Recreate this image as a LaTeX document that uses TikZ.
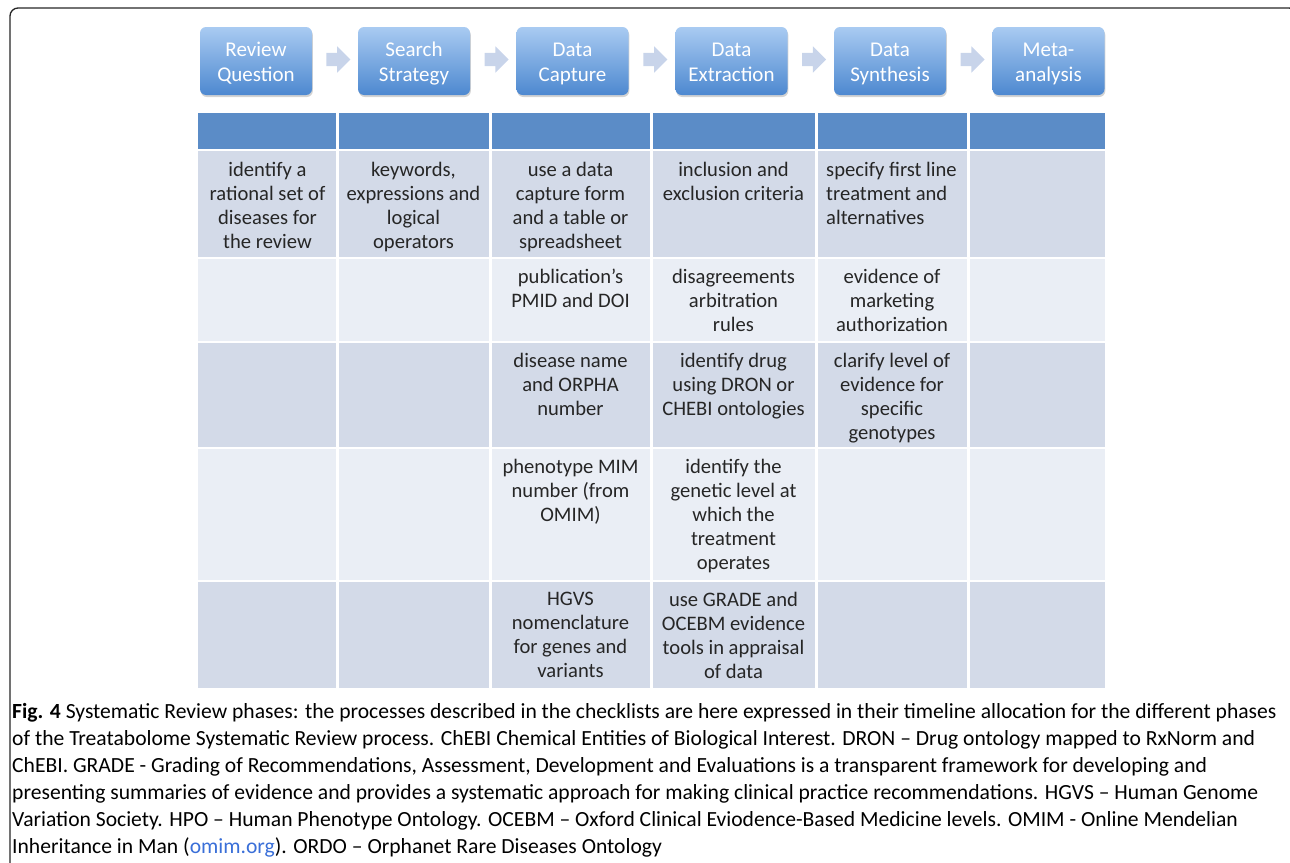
\documentclass[tikz,border=0pt]{standalone}
\usepackage{fontspec}
\setmainfont{Carlito}
\usetikzlibrary{shapes.arrows,shadows,calc}
\definecolor{hdr}{HTML}{5B8CC7}
\definecolor{bandA}{HTML}{D3DAE8}
\definecolor{bandB}{HTML}{EAEEF5}
\definecolor{txtc}{HTML}{262626}
\definecolor{boxtop}{HTML}{A9CBF2}
\definecolor{boxbot}{HTML}{4D88D0}
\definecolor{arrc}{HTML}{C8D4EA}
\definecolor{linkc}{HTML}{3A6FD8}
\tikzset{
  phase/.style={draw=none, rounded corners=6pt, minimum width=112pt, minimum height=68pt,
    top color=boxtop, bottom color=boxbot, text=white, align=center, inner sep=0pt,
    font=\fontsize{21}{25}\selectfont,
    drop shadow={opacity=0.35, shadow xshift=0.8pt, shadow yshift=-2pt}},
  blockarrow/.style={single arrow, fill=arrc, draw=none, inner xsep=0pt, inner ysep=6.5pt,
    minimum height=24pt, single arrow head extend=6.5pt, single arrow head indent=0pt},
  celltxt/.style={anchor=north, align=center, inner sep=0pt, text=txtc,
    font=\fontsize{20.6}{24}\selectfont},
  celltxtl/.style={celltxt, anchor=north west, align=left},
  captxt/.style={anchor=base west, inner sep=0pt, text=black,
    font=\fontsize{21.6}{27}\selectfont},
  sep/.style={white, line width=3pt},
  rowsep/.style={white, line width=2.2pt}
}
\newcommand{\phaselbl}[2]{\raisebox{0pt}[\dimexpr\height+6pt\relax]{\begin{tabular}{@{}c@{}}#1\\[0pt]#2\end{tabular}}}
\begin{document}
\begin{tikzpicture}[x=1pt,y=-1pt]
\useasboundingbox (0,0) rectangle (1290,862);
\clip (0,0) rectangle (1290,862);
% outer frame
\draw[line width=1.3pt, black!85, rounded corners=8pt] (10,880) -- (10,8) -- (1297,8) -- (1297,880);

% phase boxes
\node[phase] (p1) at (256,61) {\phaselbl{Review}{Question}};
\node[phase] (p2) at (414,61) {\phaselbl{Search}{Strategy}};
\node[phase] (p3) at (572.5,61) {\phaselbl{Data}{Capture}};
\node[phase] (p4) at (731.5,61) {\phaselbl{Data}{Extraction}};
\node[phase] (p5) at (890,61) {\phaselbl{Data}{Synthesis}};
\node[phase] (p6) at (1048.5,61) {\phaselbl{Meta-}{analysis}};
\node[blockarrow] (a1) at ($(p1.east)!0.5!(p2.west)+(0,-1.5)$) {};
\node[blockarrow] (a2) at ($(p2.east)!0.5!(p3.west)+(0,-1.5)$) {};
\node[blockarrow] (a3) at ($(p3.east)!0.5!(p4.west)+(0,-1.5)$) {};
\node[blockarrow] (a4) at ($(p4.east)!0.5!(p5.west)+(0,-1.5)$) {};
\node[blockarrow] (a5) at ($(p5.east)!0.5!(p6.west)+(0,-1.5)$) {};

% table fills
\fill[hdr]   (198,113) rectangle (1105,150);
\fill[bandA] (198,150) rectangle (1105,258);
\fill[bandB] (198,258) rectangle (1105,342);
\fill[bandA] (198,342) rectangle (1105,448);
\fill[bandB] (198,448) rectangle (1105,581);
\fill[bandA] (198,581) rectangle (1105,688);
% separators
\foreach \yy in {150,258,342,448,581} \draw[rowsep] (198,\yy) -- (1105,\yy);
\foreach \xx in {337,490,651,816,968} \draw[sep] (\xx,113) -- (\xx,688);

% row 1
\node[celltxt] (c11) at (267.5,162) {identify a\\rational set of\\diseases for\\the review};
\node[celltxt] (c21) at (413.5,162) {keywords,\\expressions and\\logical\\operators};
\node[celltxt] (c31) at (570.5,162) {use a data\\capture form\\and a table or\\spreadsheet};
\node[celltxt] (c41) at (733.5,162) {inclusion and\\exclusion criteria};
\node[celltxtl] (c51) at (826,162) {specify first line\\treatment and\\alternatives};
% row 2
\node[celltxt] (c32) at (570.5,269) {publication’s\\PMID and DOI};
\node[celltxt] (c42) at (733.5,269) {disagreements\\arbitration\\rules};
\node[celltxt] (c52) at (892,269) {evidence of\\marketing\\authorization};
% row 3
\node[celltxt] (c33) at (570.5,353) {disease name\\and ORPHA\\number};
\node[celltxt] (c43) at (733.5,353) {identify drug\\using DRON or\\CHEBI ontologies};
\node[celltxt] (c53) at (892,353) {clarify level of\\evidence for\\specific\\genotypes};
% row 4
\node[celltxt] (c34) at (570.5,459) {phenotype MIM\\number (from\\OMIM)};
\node[celltxt] (c44) at (733.5,459) {identify the\\genetic level at\\which the\\treatment\\operates};
% row 5
\node[celltxt] (c35) at (570.5,592) {HGVS\\nomenclature\\for genes and\\variants};
\node[celltxt] (c45) at (733.5,592) {use GRADE and\\OCEBM evidence\\tools in appraisal\\of data};

% caption
\node[captxt] (cap1) at (12,718) {\textbf{Fig. 4} Systematic Review phases: the processes described in the checklists are here expressed in their timeline allocation for the different phases};
\node[captxt] (cap2) at (12,745) {of the Treatabolome Systematic Review process. ChEBI Chemical Entities of Biological Interest. DRON – Drug ontology mapped to RxNorm and};
\node[captxt] (cap3) at (12,772) {ChEBI. GRADE - Grading of Recommendations, Assessment, Development and Evaluations is a transparent framework for developing and};
\node[captxt] (cap4) at (12,799) {presenting summaries of evidence and provides a systematic approach for making clinical practice recommendations. HGVS – Human Genome};
\node[captxt] (cap5) at (12,826) {Variation Society. HPO – Human Phenotype Ontology. OCEBM – Oxford Clinical Eviodence-Based Medicine levels. OMIM - Online Mendelian};
\node[captxt] (cap6) at (12,853) {Inheritance in Man (\textcolor{linkc}{omim.org}). ORDO – Orphanet Rare Diseases Ontology};
\end{tikzpicture}
\end{document}
